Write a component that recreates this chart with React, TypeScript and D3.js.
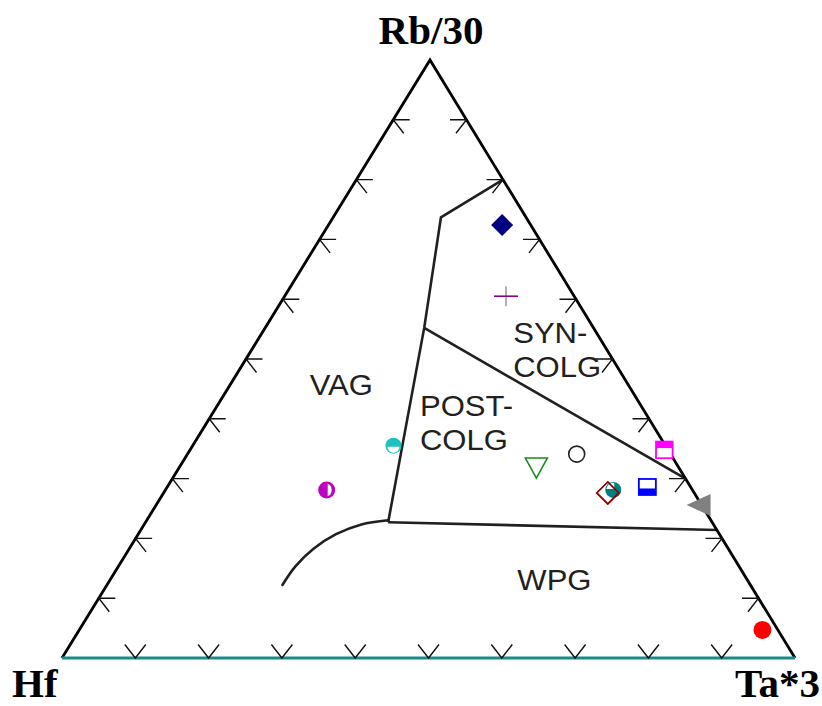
import React from "react";
import * as d3 from "d3";

// ---- Data (ternary fractions: Rb/30, Hf, Ta*3) ----
const cornerLabels = ["Rb/30", "Hf", "Ta*3"];
const tickFractions = [0.1, 0.2, 0.3, 0.4, 0.5, 0.6, 0.7, 0.8, 0.9];

const sampleIds = ["s1", "s2", "s3", "s4", "s5", "s6", "s7", "s8", "s9", "s10", "s11", "s12"];
const sampleRb = [0.724, 0.605, 0.348, 0.256, 0.286, 0.341, 0.321, 0.281, 0.276, 0.355, 0.281, 0.047];
const sampleHf = [0.039, 0.093, 0.005, 0.0, 0.059, 0.128, 0.193, 0.108, 0.118, 0.371, 0.499, 0.021];
const sampleTa = [0.237, 0.302, 0.647, 0.744, 0.655, 0.531, 0.486, 0.611, 0.606, 0.274, 0.22, 0.932];

// Field boundaries [Rb, Hf, Ta]
const boundaryVagPost: [number, number, number][] = [
  [0.8, 0.0, 0.2],
  [0.737, 0.116, 0.147],
  [0.552, 0.231, 0.217],
  [0.227, 0.442, 0.331],
];
const boundarySynPost: [number, number, number][] = [
  [0.552, 0.231, 0.217],
  [0.3, 0.0, 0.7],
];
const boundaryWpg: [number, number, number][] = [
  [0.227, 0.442, 0.331],
  [0.214, 0.0, 0.786],
];
const boundaryCurve: [number, number, number][] = [
  [0.2304, 0.4403, 0.3293],
  [0.2234, 0.4803, 0.2963],
  [0.207, 0.5231, 0.2699],
  [0.1823, 0.5665, 0.2512],
  [0.1532, 0.6053, 0.2415],
  [0.1221, 0.6385, 0.2394],
];

const fieldLabels = [
  { lines: ["VAG"], rb: 0.44, hf: 0.443, ta: 0.117 },
  { lines: ["SYN-", "COLG"], rb: 0.527, hf: 0.122, ta: 0.351 },
  { lines: ["POST-", "COLG"], rb: 0.405, hf: 0.31, ta: 0.285 },
  { lines: ["WPG"], rb: 0.114, hf: 0.322, ta: 0.564 },
];

// ---- Geometry ----
const TOP = { x: 430, y: 60 };
const LEFT = { x: 62, y: 658 };
const RIGHT = { x: 795, y: 658 };

const yScale = d3.scaleLinear().domain([0, 1]).range([LEFT.y, TOP.y]);
const xScaleTa = d3.scaleLinear().domain([0, 1]).range([0, RIGHT.x - LEFT.x]);
const xScaleRb = d3.scaleLinear().domain([0, 1]).range([0, TOP.x - LEFT.x]);

function project(rb: number, hf: number, ta: number): [number, number] {
  const s = rb + hf + ta;
  const a = rb / s;
  const c = ta / s;
  return [LEFT.x + xScaleRb(a) + xScaleTa(c), yScale(a)];
}

const lineGen = d3
  .line<[number, number, number]>()
  .x((d) => project(d[0], d[1], d[2])[0])
  .y((d) => project(d[0], d[1], d[2])[1]);

const curveGen = d3
  .line<[number, number, number]>()
  .x((d) => project(d[0], d[1], d[2])[0])
  .y((d) => project(d[0], d[1], d[2])[1])
  .curve(d3.curveCatmullRom.alpha(0.5));

// tick arm geometry
const ARM_H = 16.5;
const ARM_DX = 10.5;
const ARM_DY = 13.5;

function Marker({ i, x, y }: { i: number; x: number; y: number }) {
  switch (i) {
    case 0: {
      const r = 11;
      return <path d={`M${x},${y - r}L${x + r},${y}L${x},${y + r}L${x - r},${y}Z`} fill="#000080" />;
    }
    case 1:
      return (
        <g>
          <line x1={x} x2={x} y1={y - 10} y2={y + 10} stroke="#888" strokeWidth={1.3} />
          <line x1={x - 12} x2={x + 12} y1={y} y2={y} stroke="#8b008b" strokeWidth={1.6} />
        </g>
      );
    case 2:
      return (
        <g>
          <rect x={x - 8.3} y={y - 8.3} width={16.6} height={16.6} fill="#fff" stroke="#ff00ff" strokeWidth={1.8} />
          <rect x={x - 8.3} y={y - 8.3} width={16.6} height={6.5} fill="#ff00ff" />
        </g>
      );
    case 3:
      return <path d={`M${x - 15},${y}L${x + 9},${y - 11}L${x + 9},${y + 11}Z`} fill="#808080" />;
    case 4:
      return (
        <g>
          <rect x={x - 8.5} y={y - 8} width={17} height={16} fill="#fff" stroke="#0000ff" strokeWidth={1.8} />
          <rect x={x - 8.5} y={y + 1.5} width={17} height={6.5} fill="#0000ff" />
        </g>
      );
    case 5:
      return <circle cx={x} cy={y} r={8} fill="none" stroke="#222" strokeWidth={1.6} />;
    case 6:
      return (
        <path
          d={`M${x - 11},${y - 8}L${x + 11},${y - 8}L${x},${y + 12}Z`}
          fill="none"
          stroke="#1a8a1a"
          strokeWidth={1.6}
        />
      );
    case 7:
      return (
        <g>
          <circle cx={x} cy={y} r={8} fill="#008080" />
          <path d={`M${x - 7},${y - 1}A7,7 0 0 1 ${x + 1},${y - 7}L${x + 1},${y - 1}Z`} fill="#fff" />
        </g>
      );
    case 8: {
      const r = 11;
      return (
        <path
          d={`M${x},${y - r}L${x + r},${y}L${x},${y + r}L${x - r},${y}Z`}
          fill="none"
          stroke="#8b0000"
          strokeWidth={1.8}
        />
      );
    }
    case 9:
      return (
        <g>
          <circle cx={x} cy={y} r={8} fill="#20c0c0" />
          <path d={`M${x - 6},${y + 1}A6,6 0 0 0 ${x + 6},${y + 1}Z`} fill="#fff" />
        </g>
      );
    case 10:
      return (
        <g>
          <circle cx={x} cy={y} r={8.5} fill="#c000c0" />
          <path d={`M${x + 1},${y - 6}A4,6 0 0 1 ${x + 1},${y + 6}Z`} fill="#fff" />
        </g>
      );
    case 11:
      return <circle cx={x} cy={y} r={9} fill="#ff0000" />;
    default:
      return null;
  }
}

export default function App() {
  const ticks: JSX.Element[] = [];
  tickFractions.forEach((f, k) => {
    const [bx, by] = project(0, 1 - f, f);
    ticks.push(
      <path
        key={`b${k}`}
        d={`M${bx - ARM_DX},${by - ARM_DY}L${bx},${by}L${bx + ARM_DX},${by - ARM_DY}`}
        fill="none"
        stroke="#111"
        strokeWidth={1.4}
      />
    );
    const [lx, ly] = project(f, 1 - f, 0);
    ticks.push(
      <path
        key={`l${k}`}
        d={`M${lx + ARM_H},${ly}L${lx},${ly}L${lx + ARM_DX},${ly + ARM_DY}`}
        fill="none"
        stroke="#111"
        strokeWidth={1.4}
      />
    );
    const [rx, ry] = project(f, 0, 1 - f);
    ticks.push(
      <path
        key={`r${k}`}
        d={`M${rx - ARM_H},${ry}L${rx},${ry}L${rx - ARM_DX},${ry + ARM_DY}`}
        fill="none"
        stroke="#111"
        strokeWidth={1.4}
      />
    );
  });

  const pts = sampleIds.map((id, i) => {
    const [x, y] = project(sampleRb[i], sampleHf[i], sampleTa[i]);
    return <Marker key={id} i={i} x={x} y={y} />;
  });

  return (
    <svg
      width={822}
      height={706}
      style={{ position: "absolute", left: 0, top: 0, background: "#fff" }}
    >
      <rect width={822} height={706} fill="#fff" />
      <g fill="none" stroke="#231f20" strokeWidth={2.6} strokeLinejoin="miter">
        <path d={lineGen(boundaryVagPost) || ""} />
        <path d={lineGen(boundarySynPost) || ""} />
        <path d={lineGen(boundaryWpg) || ""} />
        <path d={curveGen(boundaryCurve) || ""} strokeLinecap="round" />
      </g>
      <path
        d={`M${LEFT.x},${LEFT.y}L${TOP.x},${TOP.y}L${RIGHT.x},${RIGHT.y}`}
        fill="none"
        stroke="#000"
        strokeWidth={2.8}
        strokeLinejoin="miter"
      />
      <line x1={LEFT.x} x2={RIGHT.x} y1={LEFT.y} y2={RIGHT.y} stroke="#1a8a8a" strokeWidth={3} />
      {ticks}
      <g fontFamily="Liberation Sans, Arial, sans-serif" fontSize={29} fill="#231f20">
        {fieldLabels.map((fl, i) => {
          const [x, y] = project(fl.rb, fl.hf, fl.ta);
          return (
            <text key={i} transform={`translate(${x},${y}) scale(1.07,1)`}>
              {fl.lines.map((ln, j) => (
                <tspan key={j} x={0} dy={j === 0 ? 0 : 34}>
                  {ln}
                </tspan>
              ))}
            </text>
          );
        })}
      </g>
      {pts}
      <g fontFamily="Liberation Serif, Times New Roman, serif" fontWeight="bold" fontSize={41} fill="#000">
        <text x={431} y={44} textAnchor="middle">
          {cornerLabels[0]}
        </text>
        <text x={12} y={697}>
          {cornerLabels[1]}
        </text>
        <text x={820} y={697} textAnchor="end">
          {cornerLabels[2]}
        </text>
      </g>
    </svg>
  );
}
